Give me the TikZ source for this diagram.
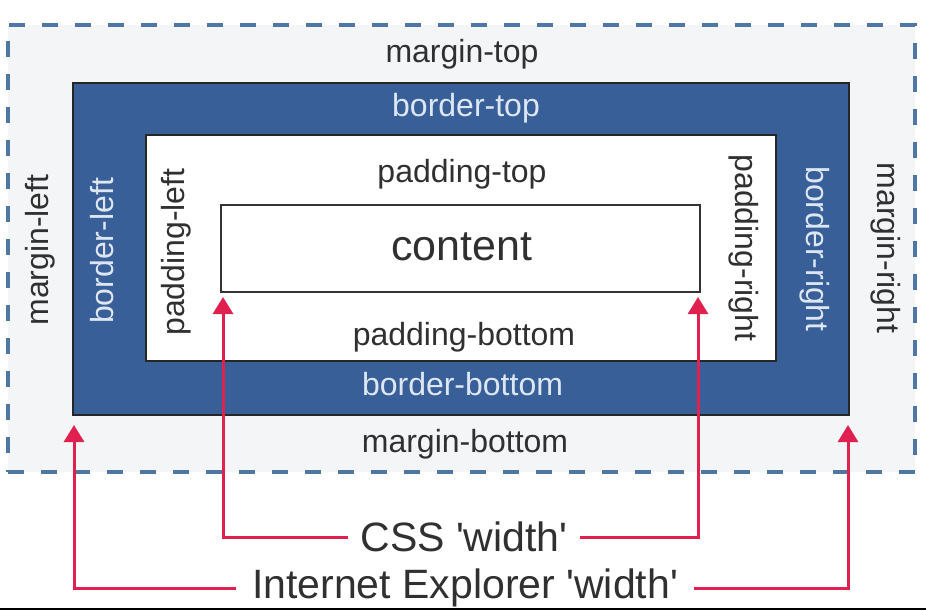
\documentclass[tikz,border=0pt]{standalone}
\usepackage{fontspec}
\setmainfont{Liberation Sans}
\usetikzlibrary{arrows.meta}

\definecolor{marginbg}{HTML}{F4F5F7}
\definecolor{borderblue}{HTML}{385F97}
\definecolor{dashblue}{HTML}{4F77A5}
\definecolor{arrowred}{HTML}{E0204F}
\definecolor{inktext}{HTML}{303030}
\definecolor{bordertext}{HTML}{DDE7F3}

\begin{document}
\begin{tikzpicture}[x=1pt,y=-1pt,
  boxnode/.style={inner sep=0pt, outer sep=0pt},
  marginbox/.style={boxnode, fill=marginbg, draw=dashblue, line width=3.5pt,
    dash pattern=on 16pt off 17pt},
  borderbox/.style={boxnode, fill=borderblue, draw=black!85, line width=2pt},
  paddingbox/.style={boxnode, fill=white, draw=black!85, line width=2pt},
  contentbox/.style={boxnode, fill=white, draw=black!80, line width=2pt},
  lbl/.style={font=\fontsize{32}{38}\selectfont, text=inktext, inner sep=0pt},
  blbl/.style={lbl, text=bordertext},
  biglbl/.style={font=\fontsize{43}{50}\selectfont, text=inktext, inner sep=0pt},
  widthlbl/.style={font=\fontsize{41}{48}\selectfont, text=inktext, inner ysep=0pt},
  arr/.style={draw=arrowred, line width=3pt, -{Triangle[length=17pt,width=20pt]}}
]
\useasboundingbox (0,0) rectangle (926,610);

% nested boxes: margin, border, padding, content
\node[marginbox, minimum width=907pt, minimum height=447pt] (margin) at (461.5,248.5) {};
\node[borderbox, minimum width=776pt, minimum height=332pt] (border) at (461,249) {};
\node[paddingbox, minimum width=630pt, minimum height=226pt] (padding) at (461,248) {};
\node[contentbox, minimum width=479pt, minimum height=87pt] (content) at (460.5,248.5) {};

% horizontal labels
\node[lbl, anchor=base] (mtop) at (462,63) {margin-top};
\node[blbl, anchor=base] (btop) at (466,116) {border-top};
\node[lbl, anchor=base] (ptop) at (462,182) {padding-top};
\node[biglbl, anchor=base] (ctext) at (462,260) {content};
\node[lbl, anchor=base] (pbottom) at (464,345) {padding-bottom};
\node[blbl, anchor=base] (bbottom) at (462.5,395) {border-bottom};
\node[lbl, anchor=base] (mbottom) at (465,452) {margin-bottom};

% vertical labels
\node[lbl, anchor=mid, rotate=90] (mleft) at (46,250) {margin-left};
\node[blbl, anchor=mid, rotate=90] (bleft) at (111,251) {border-left};
\node[lbl, anchor=mid, rotate=90] (pleft) at (182,252) {padding-left};
\node[lbl, anchor=mid, rotate=-90] (pright) at (738,248) {padding-right};
\node[blbl, anchor=mid, rotate=-90] (bright) at (809,249) {border-right};
\node[lbl, anchor=mid, rotate=-90] (mright) at (880,248) {margin-right};

% width captions
\node[widthlbl, inner xsep=12pt] (css) at (464,537) {CSS \textquotesingle width\textquotesingle};
\node[widthlbl, inner xsep=16pt] (ie) at (465,588) {Internet Explorer \textquotesingle width\textquotesingle};

% width arrows
\draw[arr, shorten >=5pt] (css.west) -| ([xshift=2pt]content.south west);
\draw[arr, shorten >=5pt] (css.east) -| ([xshift=-2pt]content.south east);
\draw[arr, shorten >=10pt] (ie.west) -| ([xshift=1pt]border.south west);
\draw[arr, shorten >=10pt] (ie.east) -| ([xshift=-1pt]border.south east);

% bottom rule
\draw[line width=2pt, black] (0,609) -- (926,609);
\end{tikzpicture}
\end{document}
